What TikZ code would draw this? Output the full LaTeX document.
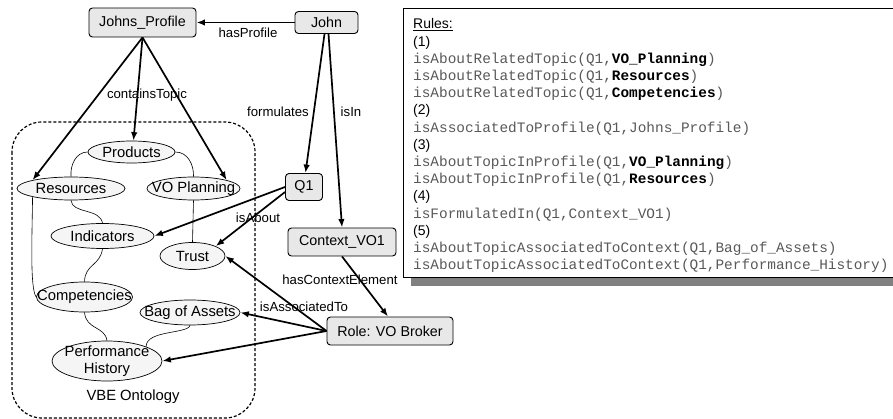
\documentclass[tikz,border=0pt]{standalone}
\usepackage{fontspec}
\setmainfont{Liberation Sans}
\setmonofont{Liberation Mono}
\usetikzlibrary{shapes.geometric,arrows.meta}
\begin{document}
\begin{tikzpicture}[x=1pt,y=-1pt,
  rbox/.style={draw, line width=0.9pt, rounded corners=3.5pt, fill=black!9, inner sep=0pt,
    font=\fontsize{14.3}{16}\selectfont},
  ell/.style={ellipse, draw, line width=0.7pt, fill=black!4, inner sep=0pt},
  etext/.style={inner sep=0pt, font=\fontsize{14.8}{17.5}\selectfont, align=center},
  link/.style={line width=0.6pt},
  rel/.style={line width=1.7pt, -{Latex[length=8.5pt,width=6.5pt]}},
  lbl/.style={inner sep=0pt, font=\fontsize{13.2}{15}\selectfont},
  code/.style={anchor=base west, inner sep=0pt, font=\ttfamily\fontsize{14.4}{17}\selectfont, text=black!65},
  head/.style={anchor=base west, inner sep=0pt, font=\fontsize{14}{17}\selectfont}
]
\clip (0,0) rectangle (893,419);

% ---------- rules panel with drop shadow ----------
\fill[black!50] (411,16) rectangle (910,286);
\draw[line width=0.9pt, fill=white] (403,8) rectangle (902,277);

\newcommand{\kw}[1]{{\color{black}\bfseries #1}}
\node[head] (r0)  at (413,29.0)  {\underline{Rules:}};
\node[head] (r1)  at (413,46.2)  {(1)};
\node[code] (r2)  at (413,63.4)  {isAboutRelatedTopic(Q1,\kw{VO\_Planning})};
\node[code] (r3)  at (413,80.6)  {isAboutRelatedTopic(Q1,\kw{Resources})};
\node[code] (r4)  at (413,97.8)  {isAboutRelatedTopic(Q1,\kw{Competencies})};
\node[head] (r5)  at (413,115.0) {(2)};
\node[code] (r6)  at (413,132.2) {isAssociatedToProfile(Q1,Johns\_Profile)};
\node[head] (r7)  at (413,149.4) {(3)};
\node[code] (r8)  at (413,166.6) {isAboutTopicInProfile(Q1,\kw{VO\_Planning})};
\node[code] (r9)  at (413,183.8) {isAboutTopicInProfile(Q1,\kw{Resources})};
\node[head] (r10) at (413,201.0) {(4)};
\node[code] (r11) at (413,218.2) {isFormulatedIn(Q1,Context\_VO1)};
\node[head] (r12) at (413,235.4) {(5)};
\node[code] (r13) at (413,252.6) {isAboutTopicAssociatedToContext(Q1,Bag\_of\_Assets)};
\node[code] (r14) at (413,269.8) {isAboutTopicAssociatedToContext(Q1,Performance\_History)};

% ---------- ontology frame ----------
\draw[line width=1.2pt, dash pattern=on 3pt off 2pt, rounded corners=30pt]
  (12,122) rectangle (255,418);
\node[etext] (onto) at (133,397) {VBE Ontology};

% ---------- ontology concepts ----------
\node[ell, minimum width=87pt,  minimum height=22pt] (prod)  at (131.5,152) {};
\node[ell, minimum width=108pt, minimum height=23pt] (res)   at (71,188.5) {};
\node[ell, minimum width=93pt,  minimum height=23pt] (vo)    at (193.5,188.5) {};
\node[ell, minimum width=103pt, minimum height=25pt] (ind)   at (102.5,236) {};
\node[ell, minimum width=65pt,  minimum height=27pt] (trust) at (192.5,256) {};
\node[ell, minimum width=96pt,  minimum height=30pt] (comp)  at (84.5,297) {};
\node[ell, minimum width=100pt, minimum height=25pt] (bag)   at (190,312.5) {};
\node[ell, minimum width=110pt, minimum height=40pt] (perf)  at (107,361) {};

\node[etext] (prod-t)  at (prod)  {Products};
\node[etext] (res-t)   at (res)   {Resources};
\node[etext] (vo-t)    at (vo)    {VO Planning};
\node[etext] (ind-t)   at (ind)   {Indicators};
\node[etext] (trust-t) at (trust) {Trust};
\node[etext] (comp-t)  at (comp)  {Competencies};
\node[etext] (bag-t)   at (bag)   {Bag of Assets};
\node[etext] (perf-t)  at (perf)  {Performance\\History};

% links between concepts
\draw[link] (prod.west) .. controls (76,152) and (70,165) .. (res.north);
\draw[link] (prod.east) .. controls (188,152) and (194,165) .. (vo.north);
\draw[link] (res.south) .. controls (72,214) and (100,208) .. (ind.north);
\draw[link] (vo.south) -- (trust.north);
\draw[link] (res.south west) .. controls (32,240) and (30,288) .. (comp.west);
\draw[link] (ind.south) .. controls (100,266) and (85,264) .. (comp.north);
\draw[link] (comp.south) .. controls (86,330) and (105,326) .. (perf.north);
\draw[link] (bag.south) .. controls (188,334) and (146,330) .. (perf.north east);

% ---------- instance nodes ----------
\node[rbox, minimum width=107pt, minimum height=29pt] (jp)   at (142.5,22.5) {Johns\_Profile};
\node[rbox, minimum width=63pt,  minimum height=22pt] (john) at (326.5,22.5) {John};
\node[rbox, minimum width=37pt,  minimum height=27pt] (q1)   at (304,187) {Q1};
\node[rbox, minimum width=108pt, minimum height=28pt] (ctx)  at (342,242) {Context\_VO1};
\node[rbox, minimum width=126pt, minimum height=28pt] (role) at (390,331) {Role: VO Broker};

% ---------- relations ----------
\draw[rel] (john.west) -- (jp.east);
\draw[rel] (jp.south) -- (res.north west);
\draw[rel] (jp.south) -- ([xshift=2pt]prod.north);
\draw[rel] (jp.south) -- (vo.north east);
\draw[rel] ([xshift=-2pt]john.south) -- ([xshift=1.5pt]q1.north);
\draw[rel] ([xshift=2pt]john.south) -- (ctx.north);
\draw[rel] (q1.west) -- (ind.east);
\draw[rel] ([yshift=-5pt]q1.west) -- (trust.north east);
\draw[rel] (ctx.south) -- ([xshift=-2pt]role.north);
\draw[rel] (role.west) -- (trust.east);
\draw[rel] (role.west) -- (bag.east);
\draw[rel] (role.west) -- (perf.east);

% relation labels
\node[lbl] (l-hasprofile) at (248,33)  {hasProfile};
\node[lbl] (l-contains)   at (147,95)  {containsTopic};
\node[lbl] (l-formulates) at (278,112) {formulates};
\node[lbl] (l-isin)       at (351,112) {isIn};
\node[lbl] (l-isabout)    at (258,218) {isAbout};
\node[lbl] (l-context)    at (340,280) {hasContextElement};
\node[lbl] (l-assoc)      at (304,307) {isAssociatedTo};
\end{tikzpicture}
\end{document}
